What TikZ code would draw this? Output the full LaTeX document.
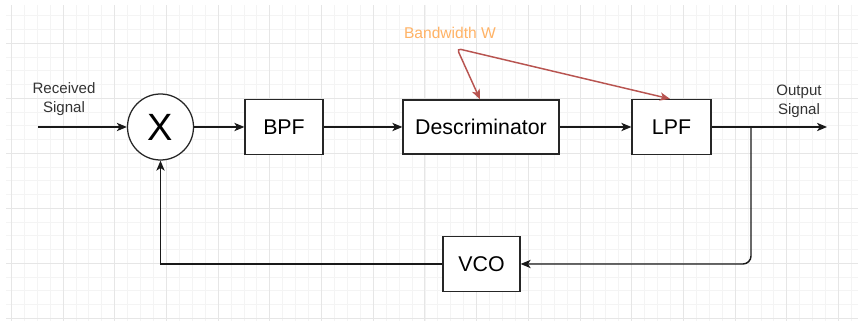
\documentclass[tikz,border=0pt]{standalone}
\usepackage{fontspec}
\setmainfont{Liberation Sans}
\usetikzlibrary{arrows.meta,calc}
\definecolor{gridminor}{RGB}{244,244,244}
\definecolor{gridmajor}{RGB}{230,230,230}
\definecolor{bworange}{RGB}{255,179,102}
\definecolor{bwred}{RGB}{184,84,80}
\definecolor{textgray}{RGB}{51,51,51}
\tikzset{
  blockbox/.style={draw=black!85, line width=0.95pt, fill=white, inner sep=0pt,
    font=\fontsize{16}{18}\selectfont},
  mixer/.style={draw=black!85, line width=0.95pt, fill=white, circle, inner sep=0pt,
    minimum size=49.5pt, font=\fontsize{28.5}{30}\selectfont},
  wire/.style={line width=1.1pt, draw=black!90},
  tip/.style={-{Stealth[length=7.5pt,width=6.2pt,inset=2pt]}},
  ctrl/.style={line width=1.1pt, draw=bwred,
    {Stealth[length=7.5pt,width=6.2pt,inset=2pt]}-{Stealth[length=7.5pt,width=6.2pt,inset=2pt]},
    rounded corners=3pt},
  sidelabel/.style={align=center, text=textgray, inner sep=0pt,
    font=\fontsize{11.3}{14.2}\selectfont},
}
\begin{document}
\begin{tikzpicture}[x=0.75pt, y=-0.75pt]
\useasboundingbox (0,0) rectangle (858,321);
\fill[white] (0,0) rectangle (858,321);

% background grid
\begin{scope}
  \clip (6,6) rectangle (858,321);
  \foreach \i [evaluate=\i as \xx using 11.3+12.925*\i] in {0,...,66}
    \draw[gridminor, line width=0.6pt] (\xx,0) -- (\xx,330);
  \foreach \j [evaluate=\j as \yy using 15.8+13.75*\j] in {0,...,23}
    \draw[gridminor, line width=0.6pt] (0,\yy) -- (870,\yy);
  \foreach \i [evaluate=\i as \xx using 11.3+51.7*\i] in {0,...,16}
    \draw[gridmajor, line width=0.7pt] (\xx,0) -- (\xx,330);
  \foreach \j [evaluate=\j as \yy using 43.3+55*\j] in {0,...,5}
    \draw[gridmajor, line width=0.7pt] (0,\yy) -- (870,\yy);
\end{scope}

% blocks
\node[mixer] (mix) at (160.5,127) {X};
\node[blockbox, minimum width=58.5pt, minimum height=41.25pt] (bpf) at (284,127) {BPF};
\node[blockbox, minimum width=117pt, minimum height=40.5pt] (desc) at (481,127) {Descriminator};
\node[blockbox, minimum width=59.25pt, minimum height=41.25pt] (lpf) at (671.5,127) {LPF};
\node[blockbox, minimum width=57.75pt, minimum height=41.25pt] (vco) at (481.5,264) {VCO};

% labels
\node[sidelabel] (rxlabel) at (64,99) {Received\\Signal};
\node[sidelabel] (outlabel) at (799,101) {Output\\Signal};
\node[inner sep=0pt, text=bworange, font=\fontsize{11.7}{14}\selectfont] (bwlabel) at (450,33) {Bandwidth W};

% signal path
\coordinate (rxin) at (38,127);
\coordinate (sigout) at (827,127);
\coordinate (branch) at (751,127);
\coordinate (bwpt) at (457,48.5);

\draw[wire, tip] (rxin) -- (mix);
\draw[wire, tip] (mix) -- (bpf);
\draw[wire, tip] (bpf) -- (desc);
\draw[wire, tip] (desc) -- (lpf);
\draw[wire, tip] (lpf) -- (sigout);

% feedback loop
\draw[wire, tip, rounded corners=6pt] (branch) |- (vco.east);
\draw[wire, tip] (vco.west) -| (mix.south);

% bandwidth control
\draw[ctrl] ($(desc.north)+(-1,0)$) -- (bwpt) -- ($(lpf.north)+(-1.5,0)$);
\end{tikzpicture}
\end{document}
